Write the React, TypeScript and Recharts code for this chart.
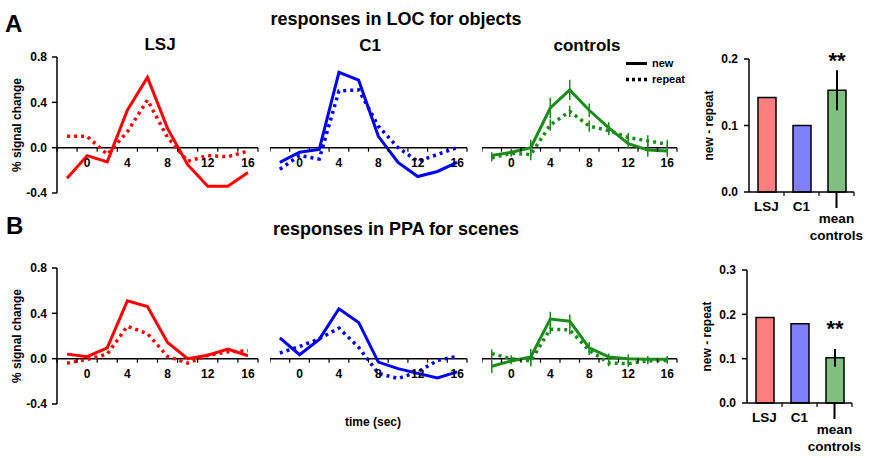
import React from 'react';
import {
  LineChart,
  Line,
  XAxis,
  YAxis,
  ReferenceLine,
  ErrorBar,
  BarChart,
  Bar,
  Cell,
  LabelList,
} from 'recharts';

const FONT = '"Liberation Sans", Arial, Helvetica, sans-serif';

// time points of the event-related averages (sec)
const timeSec = [-2, 0, 2, 4, 6, 8, 10, 12, 14, 16];
const timeTicks = [-3, -2, -1, 0, 1, 2, 3, 4, 5, 6, 7, 8, 9, 10, 11, 12, 13, 14, 15, 16, 17];
const signalTicks = [-0.4, 0, 0.4, 0.8];

// A - LOC, objects
const locLsjNew = [-0.27, -0.07, -0.125, 0.33, 0.62, 0.17, -0.15, -0.34, -0.34, -0.22];
const locLsjRepeat = [0.1, 0.1, -0.06, 0.14, 0.42, 0.09, -0.12, -0.07, -0.08, -0.03];
const locC1New = [-0.13, -0.04, -0.015, 0.665, 0.595, 0.1, -0.13, -0.255, -0.21, -0.13];
const locC1Repeat = [-0.19, -0.07, -0.1, 0.5, 0.51, 0.19, 0.0, -0.12, -0.06, 0.0];
const locCtrlNew = [-0.07, -0.04, 0.0, 0.35, 0.51, 0.33, 0.175, 0.035, -0.02, -0.03];
const locCtrlNewErr = [0.03, 0.03, 0.07, 0.09, 0.09, 0.06, 0.05, 0.04, 0.06, 0.05];
const locCtrlRepeat = [-0.09, -0.05, -0.06, 0.2, 0.32, 0.19, 0.15, 0.09, 0.06, 0.03];
const locCtrlRepeatErr = [0.03, 0.03, 0.05, 0.05, 0.05, 0.05, 0.04, 0.04, 0.05, 0.04];

// B - PPA, scenes
const ppaLsjNew = [0.04, 0.018, 0.096, 0.51, 0.46, 0.143, 0.0, 0.03, 0.085, 0.026];
const ppaLsjRepeat = [-0.04, -0.006, 0.04, 0.286, 0.22, 0.02, -0.04, 0.03, 0.06, 0.07];
const ppaC1New = [0.184, 0.035, 0.17, 0.44, 0.32, -0.03, -0.088, -0.13, -0.17, -0.117];
const ppaC1Repeat = [0.05, 0.108, 0.175, 0.27, 0.1, -0.13, -0.175, -0.117, -0.015, 0.02];
const ppaCtrlNew = [-0.067, -0.02, 0.015, 0.35, 0.33, 0.096, 0.015, 0.0, -0.006, -0.006];
const ppaCtrlNewErr = [0.06, 0.03, 0.07, 0.065, 0.06, 0.05, 0.03, 0.04, 0.03, 0.03];
const ppaCtrlRepeat = [0.044, 0.0, -0.02, 0.26, 0.254, 0.073, -0.038, -0.044, -0.02, -0.015];
const ppaCtrlRepeatErr = [0.04, 0.03, 0.05, 0.04, 0.04, 0.04, 0.03, 0.03, 0.03, 0.03];

// new - repeat difference
const groups = ['LSJ', 'C1', 'mean controls'];
const groupFills = ['#ff7f7f', '#7f7fff', '#7fbf7f'];
const locDiff = [0.142, 0.1, 0.153];
const locDiffErr = [0, 0, 0.03];
const ppaDiff = [0.193, 0.179, 0.102];
const ppaDiffErr = [0, 0, 0.02];
const sigMarks = ['', '', '**'];

const keyLabels = ['new', 'repeat'];

const RED = '#ff0000';
const BLUE = '#0000ff';
const GREEN = '#1a8c1a';

const Y_DOMAIN: [number, number] = [-0.4, 0.8];
const PLOT_H = 136;
const PAD_T = 6;
const X_AXIS_H = 30;

const vTitle = (p: any, text: string, dx: number) => {
  const vb = p.viewBox || {};
  const x = (vb.x || 0) + dx;
  const y = (vb.y || 0) + (vb.height || 0) / 2;
  return (
    <text
      x={x}
      y={y}
      transform={`rotate(-90 ${x} ${y})`}
      textAnchor="middle"
      dominantBaseline="central"
      fontFamily={FONT}
      fontSize={12}
      fontWeight="bold"
      fill="#000"
    >
      {text}
    </text>
  );
};

// x ticks sit on the zero line, not at the bottom of the plot
function TimeTick(props: any) {
  const { x, y, payload, lift } = props;
  const v = payload.value;
  const y0 = y - lift;
  if (Math.abs(v) % 2 === 1) {
    return <line x1={x} x2={x} y1={y0} y2={y0 + 4} stroke="#000" strokeWidth={1.2} />;
  }
  if (v % 4 === 0) {
    return (
      <text x={x} y={y0 + 19} textAnchor="middle" fontFamily={FONT} fontSize={12} fontWeight="bold" fill="#000">
        {v}
      </text>
    );
  }
  return <g />;
}

function TimePanel(props: any) {
  const { left, plotTop, plotW, yAxisW = 0, newVals, repeatVals, newErr, repeatErr, color } = props;
  const data = timeSec.map((t, i) => ({
    t,
    new: newVals[i],
    repeat: repeatVals[i],
    newErr: newErr ? newErr[i] : 0,
    repeatErr: repeatErr ? repeatErr[i] : 0,
  }));
  const lift = (PLOT_H * (0 - Y_DOMAIN[0])) / (Y_DOMAIN[1] - Y_DOMAIN[0]);
  const W = yAxisW + plotW + 8;
  const H = PAD_T + PLOT_H + X_AXIS_H;

  return (
    <div style={{ position: 'absolute', left: left - yAxisW, top: plotTop - PAD_T }}>
      <LineChart width={W} height={H} data={data} margin={{ top: PAD_T, right: 8, bottom: 0, left: 0 }}>
        <XAxis
          type="number"
          dataKey="t"
          domain={[-3, 17]}
          ticks={timeTicks}
          interval={0}
          axisLine={false}
          tickLine={false}
          tickSize={0}
          tickMargin={0}
          height={X_AXIS_H}
          tick={<TimeTick lift={lift} />}
        />
        {yAxisW > 0 ? (
          <YAxis
            width={yAxisW}
            domain={Y_DOMAIN}
            ticks={signalTicks}
            interval={0}
            tickFormatter={(v: number) => v.toFixed(1)}
            axisLine={{ stroke: '#000', strokeWidth: 1.5 }}
            tickLine={{ stroke: '#000', strokeWidth: 1.5 }}
            tickSize={5}
            tickMargin={5}
            tick={{ fontFamily: FONT, fontSize: 12, fontWeight: 'bold', fill: '#000' }}
            label={{ position: 'insideLeft', content: (p: any) => vTitle(p, '% signal change', 17) }}
          />
        ) : (
          <YAxis hide domain={Y_DOMAIN} />
        )}
        <ReferenceLine y={0} stroke="#000" strokeWidth={1.5} />
        <Line
          type="linear"
          dataKey="new"
          stroke={color}
          strokeWidth={3}
          dot={false}
          isAnimationActive={false}
        >
          {newErr && <ErrorBar dataKey="newErr" width={0} stroke={color} strokeWidth={1.5} />}
        </Line>
        <Line
          type="linear"
          dataKey="repeat"
          stroke={color}
          strokeWidth={3.5}
          strokeDasharray="3 4"
          dot={false}
          isAnimationActive={false}
        >
          {repeatErr && <ErrorBar dataKey="repeatErr" width={0} stroke={color} strokeWidth={1.5} />}
        </Line>
      </LineChart>
    </div>
  );
}

const BAND = 35;

function GroupTick(props: any) {
  const { x, y, payload } = props;
  const words = String(payload.value).split(' ');
  const bx = x + BAND / 2;
  return (
    <g>
      <line x1={bx} x2={bx} y1={y} y2={y + 4} stroke="#000" strokeWidth={1.2} />
      {words.length > 1 ? (
        <g>
          <line x1={x} x2={x} y1={y} y2={y + 16} stroke="#000" strokeWidth={2} />
          {words.map((w, i) => (
            <text key={w} x={x} y={y + 31 + i * 16.5} textAnchor="middle" fontFamily={FONT} fontSize={13.5} fontWeight="bold" fill="#000">
              {w}
            </text>
          ))}
        </g>
      ) : (
        <text x={x} y={y + 18.5} textAnchor="middle" fontFamily={FONT} fontSize={13.5} fontWeight="bold" fill="#000">
          {payload.value}
        </text>
      )}
    </g>
  );
}

function DiffPanel(props: any) {
  const { axisLeft, plotTop, plotH, vals, errs, yMax, yTicks } = props;
  const data = groups.map((g, i) => ({ group: g, diff: vals[i], err: errs[i], sig: sigMarks[i] }));
  const YW = 50;
  const PT = 30;
  const XH = 60;
  return (
    <div style={{ position: 'absolute', left: axisLeft - YW, top: plotTop - PT }}>
      <BarChart
        width={YW + BAND * groups.length + 10}
        height={PT + plotH + XH}
        data={data}
        margin={{ top: PT, right: 10, bottom: 0, left: 0 }}
      >
        <XAxis
          dataKey="group"
          type="category"
          interval={0}
          axisLine={{ stroke: '#000', strokeWidth: 1.5 }}
          tickLine={false}
          tickSize={0}
          tickMargin={0}
          height={XH}
          tick={<GroupTick />}
        />
        <YAxis
          width={YW}
          domain={[0, yMax]}
          ticks={yTicks}
          interval={0}
          tickFormatter={(v: number) => v.toFixed(1)}
          axisLine={{ stroke: '#000', strokeWidth: 1.5 }}
          tickLine={{ stroke: '#000', strokeWidth: 1.5 }}
          tickSize={5}
          tickMargin={6}
          tick={{ fontFamily: FONT, fontSize: 12, fontWeight: 'bold', fill: '#000' }}
          label={{ position: 'insideLeft', content: (p: any) => vTitle(p, 'new - repeat', 9.5) }}
        />
        <Bar dataKey="diff" barSize={18} stroke="#000" strokeWidth={1.5} isAnimationActive={false}>
          {data.map((d, i) => (
            <Cell key={d.group} fill={groupFills[i]} />
          ))}
          <ErrorBar dataKey="err" width={0} stroke="#000" strokeWidth={2} />
          <LabelList
            dataKey="sig"
            position="top"
            offset={22}
            style={{ fontFamily: FONT, fontSize: 22, fontWeight: 'bold', fill: '#000' }}
          />
        </Bar>
      </BarChart>
    </div>
  );
}

function Overlay() {
  const t = { fontFamily: FONT, fontWeight: 'bold' as const, fill: '#000' };
  return (
    <svg width={870} height={458} style={{ position: 'absolute', left: 0, top: 0, pointerEvents: 'none' }}>
      <text x={5} y={32} fontSize={24} {...t}>A</text>
      <text x={6} y={234} fontSize={24} {...t}>B</text>
      <text x={396} y={25} fontSize={18} textAnchor="middle" {...t}>responses in LOC for objects</text>
      <text x={396} y={235} fontSize={18} textAnchor="middle" {...t}>responses in PPA for scenes</text>
      <text x={160} y={50} fontSize={17} textAnchor="middle" {...t}>LSJ</text>
      <text x={370} y={51} fontSize={17} textAnchor="middle" {...t}>C1</text>
      <text x={587} y={51} fontSize={17} textAnchor="middle" {...t}>controls</text>
      <text x={373} y={426} fontSize={12} textAnchor="middle" {...t}>time (sec)</text>
      <line x1={626} x2={647} y1={63.5} y2={63.5} stroke="#000" strokeWidth={3} />
      <line x1={626} x2={648} y1={79.5} y2={79.5} stroke="#000" strokeWidth={3.5} strokeDasharray="3 3" />
      <text x={652} y={67} fontSize={11} {...t}>{keyLabels[0]}</text>
      <text x={652} y={83} fontSize={11} {...t}>{keyLabels[1]}</text>
    </svg>
  );
}

export default function App() {
  const rowA = 57;
  const rowB = 268;
  return (
    <div style={{ position: 'absolute', left: 0, top: 0, width: 870, height: 458, background: '#fff', overflow: 'hidden' }}>
      <TimePanel left={57} plotTop={rowA} plotW={201} yAxisW={57} newVals={locLsjNew} repeatVals={locLsjRepeat} color={RED} />
      <TimePanel left={270} plotTop={rowA} plotW={197} newVals={locC1New} repeatVals={locC1Repeat} color={BLUE} />
      <TimePanel
        left={482}
        plotTop={rowA}
        plotW={195}
        newVals={locCtrlNew}
        repeatVals={locCtrlRepeat}
        newErr={locCtrlNewErr}
        repeatErr={locCtrlRepeatErr}
        color={GREEN}
      />
      <DiffPanel axisLeft={749} plotTop={59} plotH={133} vals={locDiff} errs={locDiffErr} yMax={0.2} yTicks={[0, 0.1, 0.2]} />

      <TimePanel left={57} plotTop={rowB} plotW={201} yAxisW={57} newVals={ppaLsjNew} repeatVals={ppaLsjRepeat} color={RED} />
      <TimePanel left={270} plotTop={rowB} plotW={197} newVals={ppaC1New} repeatVals={ppaC1Repeat} color={BLUE} />
      <TimePanel
        left={482}
        plotTop={rowB}
        plotW={195}
        newVals={ppaCtrlNew}
        repeatVals={ppaCtrlRepeat}
        newErr={ppaCtrlNewErr}
        repeatErr={ppaCtrlRepeatErr}
        color={GREEN}
      />
      <DiffPanel axisLeft={747} plotTop={270} plotH={133} vals={ppaDiff} errs={ppaDiffErr} yMax={0.3} yTicks={[0, 0.1, 0.2, 0.3]} />

      <Overlay />
    </div>
  );
}
